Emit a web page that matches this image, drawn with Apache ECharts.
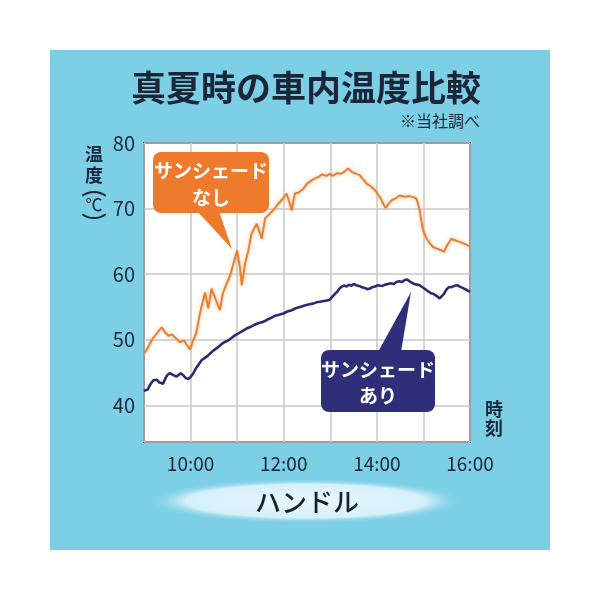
<!DOCTYPE html>
<html><head><meta charset="utf-8">
<script src="https://cdn.jsdelivr.net/npm/echarts@6/dist/echarts.min.js"></script>
<style>html,body{margin:0;padding:0;background:#fff}#c{width:600px;height:600px}</style>
</head><body><div id="c"></div>
<script>
// time in decimal hours, temperature in °C
const orangeTimes = [9.00,9.06,9.17,9.28,9.38,9.45,9.52,9.60,9.69,9.77,9.86,9.92,9.99,10.05,10.12,10.20,10.31,10.38,10.45,10.52,10.63,10.69,10.77,10.85,10.92,11.00,11.06,11.10,11.17,11.24,11.31,11.42,11.53,11.60,11.70,11.77,11.88,11.98,12.06,12.12,12.17,12.24,12.33,12.42,12.50,12.60,12.67,12.74,12.82,12.92,12.99,13.06,13.14,13.21,13.30,13.38,13.46,13.56,13.63,13.70,13.78,13.87,13.96,14.06,14.14,14.19,14.26,14.32,14.41,14.49,14.60,14.71,14.79,14.85,14.89,14.92,14.99,15.07,15.14,15.21,15.29,15.39,15.44,15.50,15.60,15.67,15.74,15.82,15.89,16.00];
const orangeTemps = [47.9,48.5,50.0,51.0,51.9,51.2,50.6,50.8,50.2,49.6,49.9,49.2,48.5,49.8,51.0,54.0,57.2,54.8,57.8,56.5,54.5,57.0,58.5,59.8,61.6,63.6,61.0,58.3,61.6,63.6,66.2,67.7,65.4,68.5,69.2,69.7,70.7,71.5,72.3,71.0,69.7,72.3,72.5,73.0,73.8,74.3,74.6,74.8,75.2,75.0,75.3,75.0,75.4,75.3,75.6,76.1,75.6,75.3,75.1,74.5,73.8,73.4,72.8,71.8,70.7,70.1,70.8,71.3,71.6,72.0,71.8,71.9,71.7,71.5,70.6,69.7,66.7,65.4,64.7,64.1,63.9,63.6,63.4,64.3,65.4,65.2,65.0,64.8,64.6,64.2];
const navyTimes = [9.00,9.04,9.08,9.12,9.16,9.20,9.24,9.28,9.32,9.36,9.41,9.46,9.50,9.55,9.59,9.63,9.67,9.70,9.74,9.79,9.84,9.89,9.95,10.00,10.06,10.12,10.18,10.24,10.30,10.36,10.42,10.48,10.54,10.60,10.66,10.72,10.78,10.85,10.92,10.99,11.06,11.13,11.20,11.27,11.35,11.45,11.55,11.63,11.72,11.80,11.90,11.99,12.08,12.17,12.26,12.35,12.45,12.55,12.63,12.70,12.78,12.86,12.94,12.99,13.05,13.10,13.15,13.20,13.25,13.30,13.35,13.40,13.45,13.50,13.56,13.62,13.68,13.74,13.80,13.85,13.90,13.96,14.02,14.06,14.12,14.18,14.24,14.30,14.36,14.42,14.48,14.54,14.60,14.65,14.70,14.75,14.80,14.86,14.92,14.98,15.04,15.10,15.16,15.21,15.26,15.30,15.35,15.39,15.44,15.49,15.54,15.60,15.66,15.72,15.78,15.84,15.90,15.95,16.00];
const navyTemps = [42.2,42.5,42.4,43.0,43.2,43.8,43.5,43.9,43.5,43.2,43.3,44.1,44.6,44.9,45.0,44.6,44.3,44.4,44.7,44.9,44.6,44.2,44.0,44.3,44.9,45.7,46.3,46.9,47.2,47.5,47.9,48.3,48.6,48.9,49.3,49.6,49.8,50.1,50.5,50.8,51.1,51.4,51.7,51.9,52.2,52.5,52.7,53.0,53.3,53.6,53.8,54.0,54.3,54.5,54.8,55.0,55.2,55.4,55.5,55.7,55.8,55.9,56.0,56.1,56.6,57.0,57.3,57.8,58.1,58.3,58.1,58.4,58.2,58.5,58.3,58.2,58.0,57.9,57.7,57.8,58.0,58.1,58.3,58.3,58.2,58.4,58.5,58.6,58.5,58.8,58.9,58.8,59.1,59.2,58.9,58.7,58.5,58.4,58.3,58.0,57.7,57.4,57.1,57.0,56.8,56.6,56.3,56.5,57.0,57.6,58.0,58.0,58.2,58.3,58.1,57.9,57.7,57.5,57.3];
const xTickLabels = {10:'10:00',12:'12:00',14:'14:00',16:'16:00'};
const yTickLabels = [40,50,60,70,80];
const titleText = '真夏時の車内温度比較';
const noteText = '※当社調べ';
const seriesNames = ['サンシェードなし','サンシェードあり'];
const bottomLabel = 'ハンドル';

const FONT = '"Noto Sans CJK JP", "Noto Sans", sans-serif';
const DARK = '#1b2638';
const chart = echarts.init(document.getElementById('c'));
const zip = (a,b) => a.map((t,i)=>[t,b[i]]);

chart.setOption({
  backgroundColor: '#ffffff',
  animation: false,
  grid: {left:144, top:143, right:130, bottom:158, show:true, backgroundColor:'#ffffff', borderColor:'#15233d', borderWidth:2},
  xAxis: {type:'value', min:9, max:16, interval:1, z:2,
    axisLine:{show:false}, axisTick:{show:false},
    splitLine:{show:true, lineStyle:{color:'#c8c8c8', width:1.5}},
    axisLabel:{fontFamily:FONT, fontSize:19, color:DARK, margin:12,
      formatter: v => xTickLabels[Math.round(v)] && Math.abs(v-Math.round(v))<1e-6 ? xTickLabels[Math.round(v)] : ''}},
  yAxis: {type:'value', min:34.4, max:80, splitNumber:5, z:2,
    axisLine:{show:false}, axisTick:{show:false},
    splitLine:{show:true, lineStyle:{color:'#c8c8c8', width:1.5}},
    axisLabel:{fontFamily:FONT, fontSize:20, color:DARK, margin:9,
      formatter: v => yTickLabels.some(t=>Math.abs(t-v)<1e-6) ? String(Math.round(v)) : ''}},
  series: [
    {name:seriesNames[0], type:'line', data:zip(orangeTimes,orangeTemps), showSymbol:false, z:3,
     lineStyle:{color:'#e57f36', width:2, shadowBlur:4, shadowColor:'rgba(240,150,70,0.6)'}},
    {name:seriesNames[1], type:'line', data:zip(navyTimes,navyTemps), showSymbol:false, z:3,
     lineStyle:{color:'#2b2b70', width:2.6}}
  ],
  graphic: [
    {type:'rect', z:-10, silent:true, shape:{x:50,y:50,width:500,height:500}, style:{fill:'#7dcfe6'}},
    {type:'text', z:10, style:{text:titleText, x:306, y:88, align:'center', verticalAlign:'middle', font:'bold 35px '+FONT, fill:DARK}},
    {type:'text', z:10, style:{text:noteText, x:480, y:121, align:'right', verticalAlign:'middle', font:'16px '+FONT, fill:DARK}},
    // y-axis name (vertical)
    {type:'text', z:10, style:{text:'温', x:94, y:154, align:'center', verticalAlign:'middle', font:'bold 18px '+FONT, fill:DARK}},
    {type:'text', z:10, style:{text:'度', x:94, y:175, align:'center', verticalAlign:'middle', font:'bold 18px '+FONT, fill:DARK}},
    {type:'arc', z:10, shape:{cx:94, cy:212, r:20, startAngle:Math.PI*1.3, endAngle:Math.PI*1.7}, style:{stroke:DARK, lineWidth:1.8, fill:null}},
    {type:'text', z:10, style:{text:'℃', x:94, y:205, align:'center', verticalAlign:'middle', font:'17px '+FONT, fill:DARK}},
    {type:'arc', z:10, shape:{cx:94, cy:198, r:20, startAngle:Math.PI*0.3, endAngle:Math.PI*0.7}, style:{stroke:DARK, lineWidth:1.8, fill:null}},
    // x-axis name
    {type:'text', z:10, style:{text:'時', x:494, y:409, align:'center', verticalAlign:'middle', font:'bold 18px '+FONT, fill:DARK}},
    {type:'text', z:10, style:{text:'刻', x:494, y:428, align:'center', verticalAlign:'middle', font:'bold 18px '+FONT, fill:DARK}},
    // orange callout
    {type:'rect', z:20, shape:{x:153,y:152,width:116,height:61,r:8}, style:{fill:'#ee7a2e'}},
    {type:'polygon', z:20, shape:{points:[[197,211],[219,211],[232,249]]}, style:{fill:'#ee7a2e'}},
    {type:'text', z:21, style:{text:'サンシェード', x:211, y:171, align:'center', verticalAlign:'middle', font:'bold 19px '+FONT, fill:'#ffffff'}},
    {type:'text', z:21, style:{text:'なし', x:211, y:198, align:'center', verticalAlign:'middle', font:'bold 19px '+FONT, fill:'#ffffff'}},
    // navy callout
    {type:'rect', z:20, shape:{x:321,y:350,width:114,height:62,r:8}, style:{fill:'#2e2f78'}},
    {type:'polygon', z:20, shape:{points:[[378,352],[401,352],[411,292]]}, style:{fill:'#2e2f78'}},
    {type:'text', z:21, style:{text:'サンシェード', x:378, y:370, align:'center', verticalAlign:'middle', font:'bold 19px '+FONT, fill:'#ffffff'}},
    {type:'text', z:21, style:{text:'あり', x:378, y:396, align:'center', verticalAlign:'middle', font:'bold 19px '+FONT, fill:'#ffffff'}},
    // bottom glow + label
    {type:'circle', z:5, x:306, y:501, scaleY:0.14, shape:{cx:0,cy:0,r:160},
     style:{fill:new echarts.graphic.RadialGradient(0.5,0.5,0.5,[
       {offset:0,color:'#e8f7fd'},{offset:0.75,color:'#d6f0fa'},{offset:1,color:'rgba(125,207,230,0)'}])}},
    {type:'text', z:10, style:{text:bottomLabel, x:307, y:502, align:'center', verticalAlign:'middle', font:'500 26px '+FONT, fill:'#1a2030'}}
  ]
});
</script></body></html>
